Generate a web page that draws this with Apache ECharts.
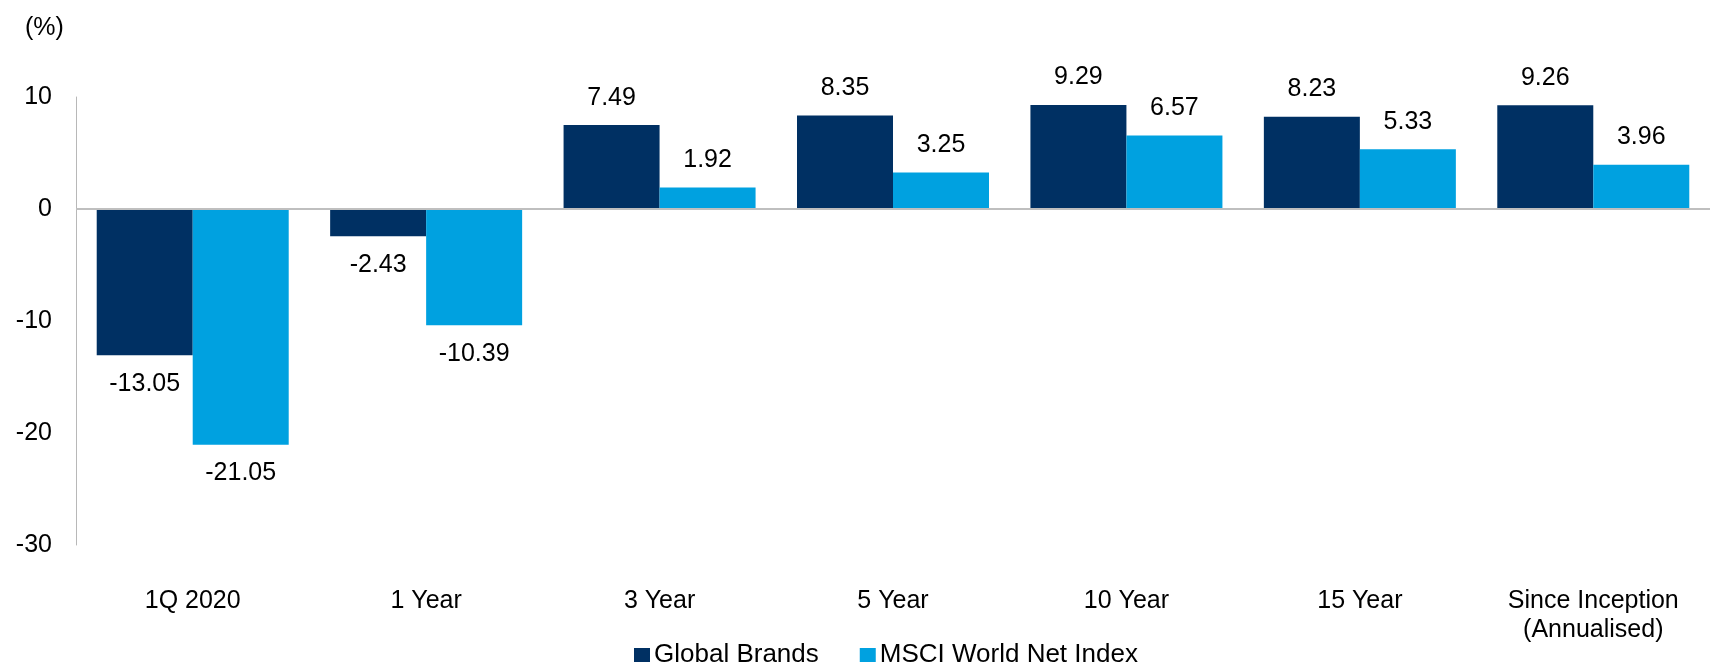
<!DOCTYPE html>
<html>
<head>
<meta charset="utf-8">
<script src="https://cdn.jsdelivr.net/npm/echarts@6/dist/echarts.min.js"></script>
<style>
  html, body { margin: 0; padding: 0; background: #ffffff; }
  #chart { width: 1710px; height: 666px; }
</style>
</head>
<body>
<div id="chart"></div>
<script>
// Performance periods and returns (%)
const categories = ['1Q 2020', '1 Year', '3 Year', '5 Year', '10 Year', '15 Year', 'Since Inception\n(Annualised)'];
const globalBrands = [-13.05, -2.43, 7.49, 8.35, 9.29, 8.23, 9.26];
const msciWorld = [-21.05, -10.39, 1.92, 3.25, 6.57, 5.33, 3.96];
const yTicks = [-30, -20, -10, 0, 10];

const FONT = '"Liberation Sans", Arial, sans-serif';
const NAVY = '#003063';
const BLUE = '#00A1E0';

// Labels sit above positive bars and below negative ones
function withLabels(values) {
  return values.map(v => ({
    value: v,
    label: v < 0 ? { position: 'bottom', distance: 16 } : { position: 'top', distance: 15 }
  }));
}

const chart = echarts.init(document.getElementById('chart'), null, { renderer: 'canvas' });

chart.setOption({
  animation: false,
  backgroundColor: '#ffffff',
  textStyle: { fontFamily: FONT },
  title: {
    text: '(%)',
    left: 20,
    top: 11,
    textStyle: { fontFamily: FONT, fontSize: 25, fontWeight: 'normal', color: '#000' }
  },
  legend: {
    left: 634,
    top: 642,
    padding: 0,
    itemWidth: 16,
    itemHeight: 14,
    itemGap: 41,
    icon: 'rect',
    textStyle: { fontFamily: FONT, fontSize: 26, color: '#000', lineHeight: 26, padding: [0, 0, 0, -1] },
    data: ['Global Brands', 'MSCI World Net Index']
  },
  grid: { left: 76, right: -9, top: 97, bottom: 121, containLabel: false },
  xAxis: {
    type: 'category',
    data: categories,
    axisLine: { show: false, onZero: false },
    axisTick: { show: false },
    axisLabel: {
      margin: 42,
      fontFamily: FONT,
      fontSize: 25,
      lineHeight: 29,
      color: '#000',
      interval: 0
    }
  },
  yAxis: {
    type: 'value',
    min: yTicks[0],
    max: yTicks[yTicks.length - 1],
    interval: 10,
    axisLine: { show: true, lineStyle: { color: '#b8b8b8', width: 1 } },
    axisTick: { show: false },
    splitLine: { show: false },
    axisLabel: { margin: 24, fontFamily: FONT, fontSize: 25, color: '#000' }
  },
  series: [
    {
      name: 'Global Brands',
      type: 'bar',
      barWidth: 96,
      barGap: '0%',
      itemStyle: { color: NAVY },
      label: {
        show: true,
        fontFamily: FONT,
        fontSize: 25,
        color: '#000',
        formatter: p => p.value.toFixed(2)
      },
      data: withLabels(globalBrands),
      markLine: {
        silent: true,
        symbol: 'none',
        label: { show: false },
        lineStyle: { color: '#bfbfbf', width: 2, type: 'solid' },
        data: [{ yAxis: 0 }]
      },
      z: 2
    },
    {
      name: 'MSCI World Net Index',
      type: 'bar',
      barWidth: 96,
      barGap: '0%',
      itemStyle: { color: BLUE },
      label: {
        show: true,
        fontFamily: FONT,
        fontSize: 25,
        color: '#000',
        formatter: p => p.value.toFixed(2)
      },
      data: withLabels(msciWorld),
      z: 2
    }
  ]
});
</script>
</body>
</html>
